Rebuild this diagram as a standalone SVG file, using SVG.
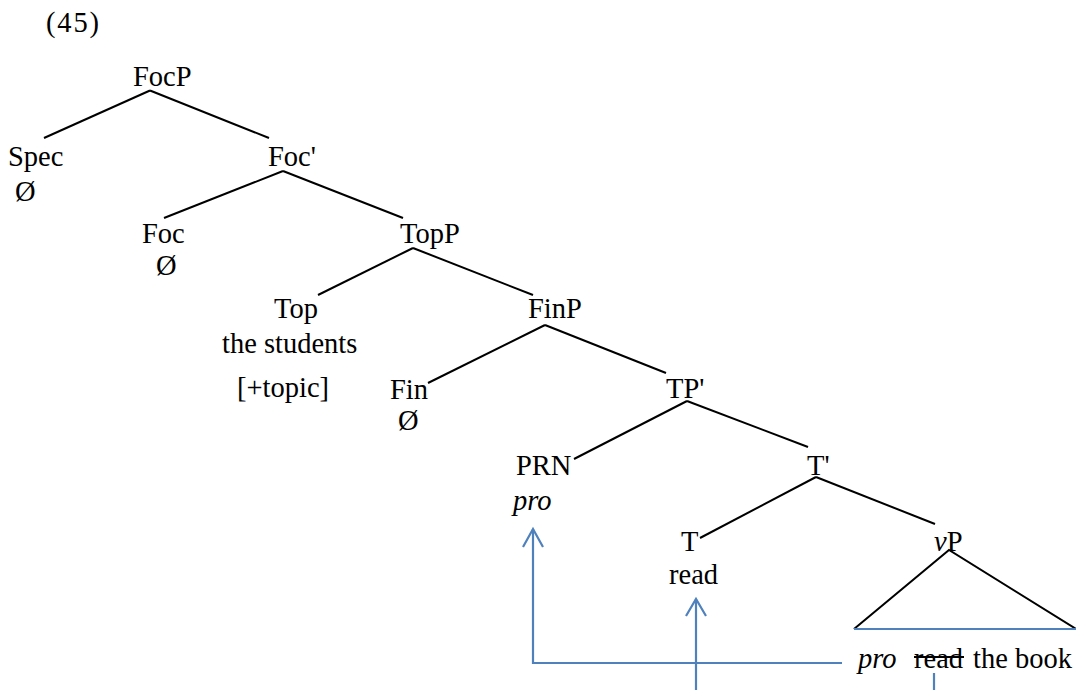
<svg xmlns="http://www.w3.org/2000/svg" width="1076" height="690" viewBox="0 0 1076 690">
<style>
text{font-family:"Liberation Serif","Times New Roman",serif;font-size:28.5px;fill:#000}
.i{font-style:italic}
.e{stroke:#000;stroke-width:2;fill:none}
.b{stroke:#4F81BD;stroke-width:2.2;fill:none}
</style>
<rect width="1076" height="690" fill="#fff"/>
<text x="46" y="32" textLength="53">(45)</text>
<g id="connectors">
<line class="e" x1="150" y1="90.5" x2="44" y2="138"/>
<line class="e" x1="150" y1="90.5" x2="269" y2="138"/>
<line class="e" x1="283" y1="171" x2="164" y2="218"/>
<line class="e" x1="283" y1="171" x2="403" y2="218"/>
<line class="e" x1="413" y1="248" x2="318" y2="295"/>
<line class="e" x1="413" y1="248" x2="533" y2="295"/>
<line class="e" x1="545" y1="325" x2="428" y2="383"/>
<line class="e" x1="545" y1="325" x2="666" y2="373"/>
<line class="e" x1="687" y1="401" x2="574" y2="459"/>
<line class="e" x1="687" y1="401" x2="808" y2="447"/>
<line class="e" x1="816" y1="477" x2="700" y2="538"/>
<line class="e" x1="816" y1="477" x2="935" y2="524"/>
<polyline class="e" points="854,629 949,550 1076,629"/>
<line class="b" x1="854" y1="629" x2="1076" y2="629"/>
<polyline class="b" points="842,663 533,663 533,529"/>
<polyline class="b" points="523,547 533,529 543,547"/>
<line class="b" x1="696" y1="690" x2="696" y2="599"/>
<polyline class="b" points="686,616 696,599 706,616"/>
<line class="b" x1="934" y1="673" x2="934" y2="690"/>
</g>
<g id="FocP"><text x="133" y="86">FocP</text></g>
<g id="Spec"><text x="8" y="166">Spec</text><text x="15" y="201">Ø</text></g>
<g id="FocBar"><text x="268" y="166">Foc'</text></g>
<g id="Foc"><text x="142" y="243">Foc</text><text x="156" y="275">Ø</text></g>
<g id="TopP"><text x="400" y="243">TopP</text></g>
<g id="Top"><text x="274" y="318">Top</text><text x="222" y="353">the students</text><text x="237" y="397">[+topic]</text></g>
<g id="FinP"><text x="528" y="318">FinP</text></g>
<g id="Fin"><text x="390" y="399">Fin</text><text x="398" y="430">Ø</text></g>
<g id="TPbar"><text x="666" y="398">TP'</text></g>
<g id="PRN"><text x="516" y="475">PRN</text><text class="i" x="513" y="510">pro</text></g>
<g id="Tbar"><text x="807" y="475">T'</text></g>
<g id="T"><text x="681" y="551">T</text><text x="669" y="584">read</text></g>
<g id="vP"><text x="934" y="551"><tspan class="i">v</tspan>P</text></g>
<g id="vPcontent">
<text class="i" x="858" y="668">pro</text>
<text x="914" y="668">read</text>
<line x1="914" y1="657" x2="964" y2="657" stroke="#000" stroke-width="2"/>
<text x="973" y="668">the book</text>
</g>
</svg>
